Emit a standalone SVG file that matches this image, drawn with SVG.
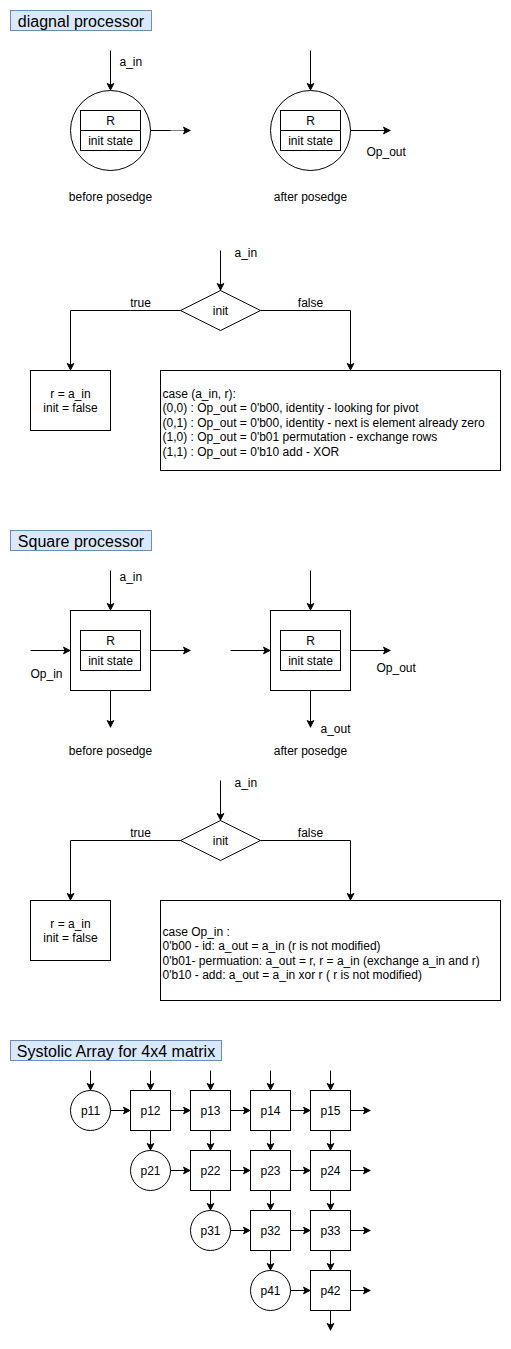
<svg xmlns="http://www.w3.org/2000/svg" width="511" height="1349" viewBox="0 0 511 1349">
  <style>
    text { font-family: "Liberation Sans", Arial, Helvetica, sans-serif; font-size: 12px; fill: #000; }
    .title { font-size: 16px; text-anchor: middle; }
    .c { text-anchor: middle; }
    .titlebox { fill: #dae8fc; stroke: #6c8ebf; stroke-width: 1; }
    .shape { fill: #fff; stroke: #000; stroke-width: 1; }
    .edge { fill: none; stroke: #000; stroke-width: 1; marker-end: url(#arrow); }
  </style>
  <defs>
    <marker id="arrow" markerUnits="userSpaceOnUse" viewBox="-9 -5 10 10" refX="0" refY="0" markerWidth="10" markerHeight="10" orient="auto">
      <path d="M-0.5,0 L-7,-3.3 L-5.3,0 L-7,3.3 Z" fill="#000" stroke="#000" stroke-width="1" stroke-linejoin="miter"/>
    </marker>
  </defs>
  <rect x="0" y="0" width="511" height="1349" fill="#fff"/>
  <g transform="translate(0.5,0.5)">

    <!-- ===== diagonal processor ===== -->
    <g id="title-diag">
      <rect class="titlebox" x="10" y="10" width="141" height="20"/>
      <text class="title" x="80.5" y="26">diagnal processor</text>
    </g>
    <g id="diag-before">
      <circle class="shape" cx="110" cy="130" r="40"/>
      <rect class="shape" x="80" y="110" width="60" height="20"/>
      <rect class="shape" x="80" y="130" width="60" height="20"/>
      <text class="c" x="110" y="124.3">R</text>
      <text class="c" x="110" y="144.3">init state</text>
    </g>
    <g id="diag-after">
      <circle class="shape" cx="310" cy="130" r="40"/>
      <rect class="shape" x="280" y="110" width="60" height="20"/>
      <rect class="shape" x="280" y="130" width="60" height="20"/>
      <text class="c" x="310" y="124.3">R</text>
      <text class="c" x="310" y="144.3">init state</text>
    </g>
    <g id="diag-labels">
      <text x="119" y="65">a_in</text>
      <text x="366" y="155">Op_out</text>
      <text class="c" x="110" y="200">before posedge</text>
      <text class="c" x="310" y="200">after posedge</text>
    </g>

    <!-- diagonal processor decision -->
    <g id="diag-init">
      <polygon class="shape" points="220,290 260,310 220,330 180,310"/>
      <text class="c" x="220" y="314.3">init</text>
    </g>
    <g id="diag-true">
      <rect class="shape" x="30" y="370" width="80" height="60"/>
      <text class="c" x="70" y="397">r = a_in</text>
      <text class="c" x="70" y="411.5">init = false</text>
    </g>
    <g id="diag-false">
      <rect class="shape" x="160" y="370" width="340" height="100"/>
      <text x="162" y="397.3">case (a_in, r):</text>
      <text x="162" y="411.8">(0,0) : Op_out = 0'b00, identity - looking for pivot</text>
      <text x="162" y="426.3">(0,1) : Op_out = 0'b00, identity - next is element already zero</text>
      <text x="162" y="440.8">(1,0) : Op_out = 0'b01 permutation - exchange rows</text>
      <text x="162" y="455.3">(1,1) : Op_out = 0'b10 add - XOR</text>
    </g>
    <g id="diag-flow-labels">
      <text x="234" y="256">a_in</text>
      <text class="c" x="140" y="306">true</text>
      <text class="c" x="310" y="306">false</text>
    </g>

    <!-- ===== square processor ===== -->
    <g id="title-square">
      <rect class="titlebox" x="10" y="530" width="141" height="20"/>
      <text class="title" x="80.5" y="546">Square processor</text>
    </g>
    <g id="sq-before">
      <rect class="shape" x="70" y="610" width="80" height="80"/>
      <rect class="shape" x="80" y="630" width="60" height="20"/>
      <rect class="shape" x="80" y="650" width="60" height="20"/>
      <text class="c" x="110" y="644.3">R</text>
      <text class="c" x="110" y="664.3">init state</text>
    </g>
    <g id="sq-after">
      <rect class="shape" x="270" y="610" width="80" height="80"/>
      <rect class="shape" x="280" y="630" width="60" height="20"/>
      <rect class="shape" x="280" y="650" width="60" height="20"/>
      <text class="c" x="310" y="644.3">R</text>
      <text class="c" x="310" y="664.3">init state</text>
    </g>
    <g id="sq-labels">
      <text x="119" y="580">a_in</text>
      <text x="30" y="677">Op_in</text>
      <text x="376" y="671">Op_out</text>
      <text x="320" y="732">a_out</text>
      <text class="c" x="110" y="754">before posedge</text>
      <text class="c" x="310" y="754">after posedge</text>
    </g>

    <!-- square processor decision -->
    <g id="sq-init">
      <polygon class="shape" points="220,820 260,840 220,860 180,840"/>
      <text class="c" x="220" y="844.3">init</text>
    </g>
    <g id="sq-true">
      <rect class="shape" x="30" y="900" width="80" height="60"/>
      <text class="c" x="70" y="927">r = a_in</text>
      <text class="c" x="70" y="941.5">init = false</text>
    </g>
    <g id="sq-false">
      <rect class="shape" x="160" y="900" width="340" height="100"/>
      <text x="162" y="935.3">case Op_in :</text>
      <text x="162" y="949.8">0'b00 - id: a_out = a_in (r is not modified)</text>
      <text x="162" y="964.3">0'b01- permuation: a_out = r, r = a_in (exchange a_in and r)</text>
      <text x="162" y="978.8">0'b10 - add: a_out = a_in xor r ( r is not modified)</text>
    </g>
    <g id="sq-flow-labels">
      <text x="234" y="786">a_in</text>
      <text class="c" x="140" y="836">true</text>
      <text class="c" x="310" y="836">false</text>
    </g>

    <!-- ===== systolic array ===== -->
    <g id="title-systolic">
      <rect class="titlebox" x="10" y="1040" width="211" height="20"/>
      <text class="title" x="115.5" y="1056">Systolic Array for 4x4 matrix</text>
    </g>
    <g id="p11"><circle class="shape" cx="90" cy="1110" r="20"/><text class="c" x="90" y="1114.3">p11</text></g>
    <g id="p12"><rect class="shape" x="130" y="1090" width="40" height="40"/><text class="c" x="150" y="1114.3">p12</text></g>
    <g id="p13"><rect class="shape" x="190" y="1090" width="40" height="40"/><text class="c" x="210" y="1114.3">p13</text></g>
    <g id="p14"><rect class="shape" x="250" y="1090" width="40" height="40"/><text class="c" x="270" y="1114.3">p14</text></g>
    <g id="p15"><rect class="shape" x="310" y="1090" width="40" height="40"/><text class="c" x="330" y="1114.3">p15</text></g>
    <g id="p21"><circle class="shape" cx="150" cy="1170" r="20"/><text class="c" x="150" y="1174.3">p21</text></g>
    <g id="p22"><rect class="shape" x="190" y="1150" width="40" height="40"/><text class="c" x="210" y="1174.3">p22</text></g>
    <g id="p23"><rect class="shape" x="250" y="1150" width="40" height="40"/><text class="c" x="270" y="1174.3">p23</text></g>
    <g id="p24"><rect class="shape" x="310" y="1150" width="40" height="40"/><text class="c" x="330" y="1174.3">p24</text></g>
    <g id="p31"><circle class="shape" cx="210" cy="1230" r="20"/><text class="c" x="210" y="1234.3">p31</text></g>
    <g id="p32"><rect class="shape" x="250" y="1210" width="40" height="40"/><text class="c" x="270" y="1234.3">p32</text></g>
    <g id="p33"><rect class="shape" x="310" y="1210" width="40" height="40"/><text class="c" x="330" y="1234.3">p33</text></g>
    <g id="p41"><circle class="shape" cx="270" cy="1290" r="20"/><text class="c" x="270" y="1294.3">p41</text></g>
    <g id="p42"><rect class="shape" x="310" y="1270" width="40" height="40"/><text class="c" x="330" y="1294.3">p42</text></g>

    <!-- ===== connectors ===== -->
    <g id="connectors">
      <!-- diagonal processor -->
      <path class="edge" d="M110,50 V90"/>
      <path class="edge" d="M150,130 H190"/>
      <path d="M170,130 H183" stroke="#808080" stroke-width="1" fill="none"/>
      <path class="edge" d="M310,50 V90"/>
      <path class="edge" d="M350,130 H390"/>
      <path class="edge" d="M220,250 V290"/>
      <path class="edge" d="M180,310 H70 V370"/>
      <path class="edge" d="M260,310 H350 V370"/>
      <!-- square processor -->
      <path class="edge" d="M110,570 V610"/>
      <path class="edge" d="M30,650 H70"/>
      <path class="edge" d="M150,650 H190"/>
      <path class="edge" d="M110,690 V727"/>
      <path class="edge" d="M310,570 V610"/>
      <path class="edge" d="M230,650 H270"/>
      <path class="edge" d="M350,650 H390"/>
      <path class="edge" d="M310,690 V727"/>
      <path class="edge" d="M220,780 V820"/>
      <path class="edge" d="M180,840 H70 V900"/>
      <path class="edge" d="M260,840 H350 V900"/>
      <!-- systolic array: column inputs -->
      <path class="edge" d="M90,1070 V1090"/>
      <path class="edge" d="M150,1070 V1090"/>
      <path class="edge" d="M210,1070 V1090"/>
      <path class="edge" d="M270,1070 V1090"/>
      <path class="edge" d="M330,1070 V1090"/>
      <!-- row 1 -->
      <path class="edge" d="M110,1110 H130"/>
      <path class="edge" d="M170,1110 H190"/>
      <path class="edge" d="M230,1110 H250"/>
      <path class="edge" d="M290,1110 H310"/>
      <path class="edge" d="M350,1110 H370"/>
      <!-- row 2 -->
      <path class="edge" d="M170,1170 H190"/>
      <path class="edge" d="M230,1170 H250"/>
      <path class="edge" d="M290,1170 H310"/>
      <path class="edge" d="M350,1170 H370"/>
      <!-- row 3 -->
      <path class="edge" d="M230,1230 H250"/>
      <path class="edge" d="M290,1230 H310"/>
      <path class="edge" d="M350,1230 H370"/>
      <!-- row 4 -->
      <path class="edge" d="M290,1290 H310"/>
      <path class="edge" d="M350,1290 H370"/>
      <!-- vertical flow -->
      <path class="edge" d="M150,1130 V1150"/>
      <path class="edge" d="M210,1130 V1150"/>
      <path class="edge" d="M270,1130 V1150"/>
      <path class="edge" d="M330,1130 V1150"/>
      <path class="edge" d="M210,1190 V1210"/>
      <path class="edge" d="M270,1190 V1210"/>
      <path class="edge" d="M330,1190 V1210"/>
      <path class="edge" d="M270,1250 V1270"/>
      <path class="edge" d="M330,1250 V1270"/>
      <path class="edge" d="M330,1310 V1330"/>
    </g>
  </g>
</svg>
